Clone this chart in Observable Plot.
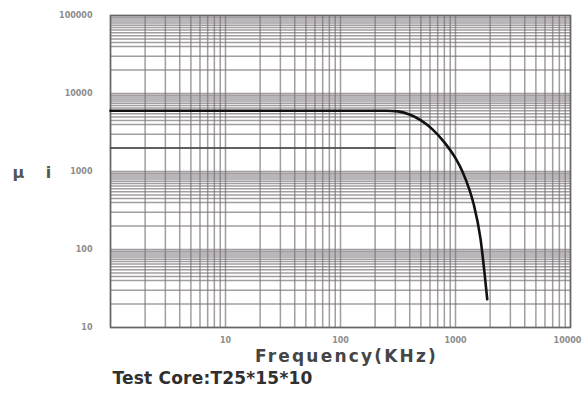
<!DOCTYPE html>
<html>
<head>
<meta charset="utf-8">
<script src="https://cdn.jsdelivr.net/npm/d3@7"></script>
<script src="https://cdn.jsdelivr.net/npm/@observablehq/plot@0.6"></script>
<style>
  html, body { margin: 0; padding: 0; background: #fff; }
  #chart svg { display: block; }
</style>
</head>
<body>
<div id="chart"></div>
<script>
// Initial permeability (μi) vs frequency for a T25*15*10 toroid
const freqTicks = [10, 100, 1000, 10000];
const muTicks = [10, 100, 1000, 10000, 100000];

// Measured curve
const freq = [1, 10, 100, 250, 316, 398, 501, 631, 794, 1000, 1148, 1318, 1445, 1649, 1786, 1888];
const mu   = [6000, 6000, 6000, 6000, 5900, 5370, 4520, 3470, 2400, 1480, 1000, 590, 372, 138, 51, 23];

// Secondary reference level
const refFreq = [1, 300];
const refMu = [2000, 2000];

// Log-paper grid multipliers within each decade
const xDecades = [1, 10, 100, 1000];
const xSteps = [1, 2, 3, 4, 5, 6, 7, 8, 9];
const yDecades = [10, 100, 1000, 10000];
const ySteps = [1, 2, 3, 4, 4.5, 5, 5.5, 6, 6.5, 7, 7.5, 8, 8.5, 9, 9.5];

const xGrid = xDecades.flatMap(d => xSteps.map(s => d * s)).concat([10000]);
const yGrid = yDecades.flatMap(d => ySteps.map(s => d * s)).concat([100000]);

const curve = freq.map((f, i) => ({f, m: mu[i]}));
const refLine = refFreq.map((f, i) => ({f, m: refMu[i]}));

const gridColor = "#7a7477";

const chart = Plot.plot({
  width: 582,
  height: 403,
  marginLeft: 110,
  marginRight: 12,
  marginTop: 15,
  marginBottom: 76,
  style: {
    fontFamily: "DejaVu Sans, sans-serif",
    fontSize: "8px",
    fontWeight: "bold",
    color: "#8c8c8c",
    background: "#fff"
  },
  x: {
    type: "log",
    domain: [1, 10000],
    ticks: freqTicks,
    tickFormat: d => String(d),
    tickSize: 0,
    tickPadding: 10,
    label: null
  },
  y: {
    type: "log",
    domain: [10, 100000],
    ticks: muTicks,
    tickFormat: d => String(d),
    tickSize: 0,
    tickPadding: 18,
    label: null
  },
  marks: [
    Plot.ruleX(xGrid, {stroke: gridColor, strokeWidth: 1.5, strokeOpacity: 0.7}),
    Plot.ruleY(yGrid, {stroke: gridColor, strokeWidth: 1.5, strokeOpacity: 0.7}),
    Plot.frame({stroke: "#666", strokeWidth: 1.5}),
    Plot.line(refLine, {x: "f", y: "m", stroke: "#444", strokeWidth: 1.6}),
    Plot.line(curve, {x: "f", y: "m", stroke: "#111", strokeWidth: 2.6, curve: "monotone-x"}),
    Plot.text(["μ i"], {
      frameAnchor: "left", dx: -98, dy: 1, textAnchor: "start",
      fontSize: 16, fill: "#555", fontWeight: "bold"
    }),
    Plot.text(["Frequency(KHz)"], {
      frameAnchor: "bottom", dx: 6, dy: 34, lineAnchor: "bottom",
      fontSize: 17, fill: "#454545", fontWeight: "bold"
    }),
    Plot.text(["Test Core:T25*15*10"], {
      frameAnchor: "bottom-left", dx: 2, dy: 56, lineAnchor: "bottom", textAnchor: "start",
      fontSize: 17, fill: "#303030", fontWeight: "bold"
    })
  ]
});

// Letter spacing for the titles; keep the last frequency label inside the page
d3.select(chart).selectAll("text").each(function () {
  const t = this.textContent;
  if (t === "Frequency(KHz)") this.setAttribute("letter-spacing", "2.2");
  if (t === "Test Core:T25*15*10") this.setAttribute("letter-spacing", "0.2");
  if (t === "μ i") this.setAttribute("letter-spacing", "8");
  if (t === "10000" && this.closest("[aria-label='x-axis tick label']")) this.setAttribute("dx", "-3");
});

document.getElementById("chart").append(chart);
</script>
</body>
</html>
